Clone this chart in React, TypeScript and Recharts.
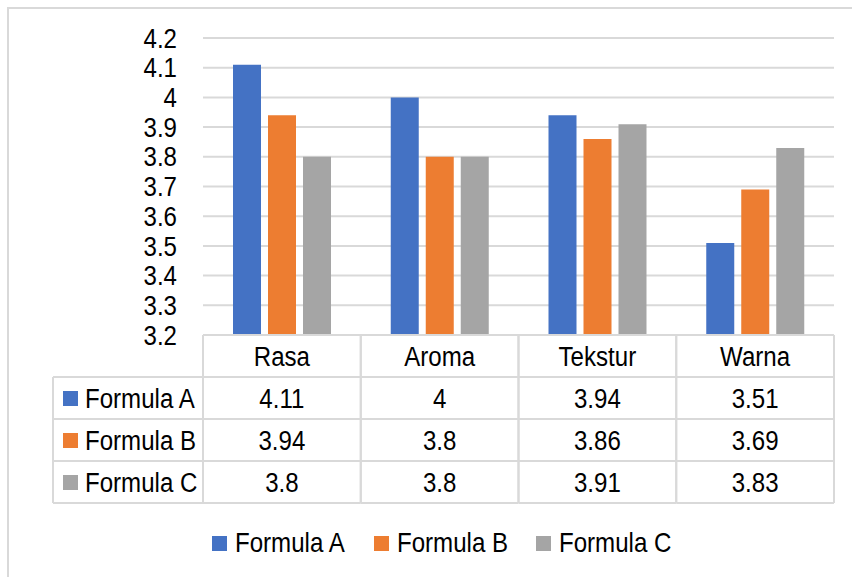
import { Bar, BarChart, CartesianGrid, XAxis, YAxis } from "recharts";

const categories = ["Rasa", "Aroma", "Tekstur", "Warna"];
const formulaA = [4.11, 4, 3.94, 3.51];
const formulaB = [3.94, 3.8, 3.86, 3.69];
const formulaC = [3.8, 3.8, 3.91, 3.83];
const yTicks = [3.2, 3.3, 3.4, 3.5, 3.6, 3.7, 3.8, 3.9, 4, 4.1, 4.2];

const series = [
  { key: "a", name: "Formula A", values: formulaA, color: "#4472C4" },
  { key: "b", name: "Formula B", values: formulaB, color: "#ED7D31" },
  { key: "c", name: "Formula C", values: formulaC, color: "#A5A5A5" },
];

const data = categories.map((cat, i) => {
  const row: Record<string, string | number> = { cat };
  series.forEach((s) => (row[s.key] = s.values[i]));
  return row;
});

const W = 852;
const H = 577;
const PLOT_LEFT = 203;
const PLOT_RIGHT = 834;
const PLOT_TOP = 38;
const PLOT_BOTTOM = 335;
const ROW_H = 42;
const TABLE_LEFT = 53;
const LINE = "#d9d9d9";
const FONT = "'Liberation Sans', Arial, sans-serif";
const FS = 28;
const SX = 0.86; // squeeze to look like Arial Narrow

function NText({ x, y, anchor = "start", children }: { x: number; y: number; anchor?: "start" | "middle" | "end"; children: any }) {
  return (
    <text
      transform={`translate(${x},${y}) scale(${SX},1)`}
      textAnchor={anchor}
      dominantBaseline="central"
      fontSize={FS}
      fontFamily={FONT}
      fill="#000"
    >
      {children}
    </text>
  );
}

const colW = (PLOT_RIGHT - PLOT_LEFT) / categories.length;

function YTick(props: any) {
  const { y, payload } = props;
  return <NText x={PLOT_LEFT - 26} y={y} anchor="end">{String(payload.value)}</NText>;
}

function TableColumn(props: any) {
  const { x, payload, index } = props;
  const left = x - colW / 2;
  const right = x + colW / 2;
  const top = PLOT_BOTTOM;
  const bottom = top + ROW_H * (series.length + 1);
  const i = index as number;
  return (
    <g>
      {[0, 1, 2, 3, 4].map((r) => (
        <line key={"h" + r} x1={left} x2={right} y1={top + r * ROW_H} y2={top + r * ROW_H} stroke={LINE} strokeWidth={2} />
      ))}
      <line x1={left} x2={left} y1={top} y2={bottom} stroke={LINE} strokeWidth={2} />
      <line x1={right} x2={right} y1={top} y2={bottom} stroke={LINE} strokeWidth={2} />
      <NText x={x} y={top + ROW_H / 2} anchor="middle">{payload.value}</NText>
      {series.map((s, r) => (
        <NText key={s.key} x={x} y={top + ROW_H * (r + 1.5)} anchor="middle">{String(s.values[i])}</NText>
      ))}
      {i === 0 && (
        <g>
          {[1, 2, 3, 4].map((r) => (
            <line key={"l" + r} x1={TABLE_LEFT} x2={left} y1={top + r * ROW_H} y2={top + r * ROW_H} stroke={LINE} strokeWidth={2} />
          ))}
          <line x1={TABLE_LEFT} x2={TABLE_LEFT} y1={top + ROW_H} y2={bottom} stroke={LINE} strokeWidth={2} />
          {series.map((s, r) => (
            <g key={s.key}>
              <rect x={63} y={top + ROW_H * (r + 1.5) - 7} width={15} height={15} fill={s.color} />
              <NText x={85} y={top + ROW_H * (r + 1.5)}>{s.name}</NText>
            </g>
          ))}
        </g>
      )}
    </g>
  );
}

const legendPos = [212, 374, 536];

export default function App() {
  return (
    <div style={{ position: "absolute", left: 0, top: 0, width: W, height: H, background: "#fff", overflow: "hidden" }}>
      <div style={{ position: "absolute", left: 7, top: 7, width: W, height: H, border: `2px solid ${LINE}`, boxSizing: "border-box" }} />
      <BarChart
        width={W}
        height={H}
        data={data}
        margin={{ top: PLOT_TOP, left: PLOT_LEFT - 60, right: W - PLOT_RIGHT, bottom: H - PLOT_BOTTOM - 170 }}
        barCategoryGap={30}
        barGap={7}
        style={{ position: "absolute", left: 0, top: 0 }}
      >
        <CartesianGrid vertical={false} stroke={LINE} strokeWidth={2} />
        <XAxis dataKey="cat" height={170} axisLine={false} tickLine={false} tick={<TableColumn />} interval={0} />
        <YAxis
          width={60}
          domain={[3.2, 4.2]}
          ticks={yTicks}
          axisLine={false}
          tickLine={false}
          interval={0}
          tick={<YTick />}
        />
        {series.map((s) => (
          <Bar key={s.key} dataKey={s.key} name={s.name} fill={s.color} barSize={28} isAnimationActive={false} />
        ))}
      </BarChart>
      {series.map((s, i) => (
        <div
          key={s.key}
          style={{ position: "absolute", left: legendPos[i], top: 527, height: 32, display: "flex", alignItems: "center", fontFamily: FONT, fontSize: FS, color: "#000", whiteSpace: "nowrap" }}
        >
          <span style={{ display: "inline-block", width: 15, height: 15, background: s.color, marginRight: 8 }} />
          <span style={{ display: "inline-block", transform: `scale(${SX},1)`, transformOrigin: "left center" }}>{s.name}</span>
        </div>
      ))}
    </div>
  );
}
